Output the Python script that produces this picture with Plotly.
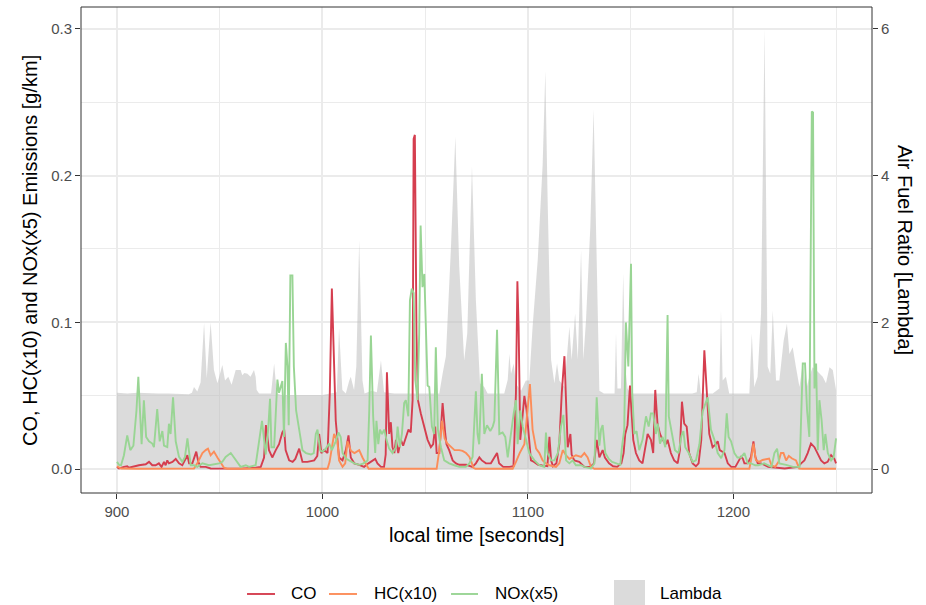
import plotly.graph_objects as go

# ---------------- data ----------------
co_t = [900, 901, 903.4, 905, 905.8, 908.3, 910.7, 914, 915.6, 917.2, 918.8, 920.4, 921.7, 922.9, 923.7, 924.5, 925.3, 927, 928.6, 930.2,
        931.8, 934.3, 935.1, 936.7, 938.6, 939.6, 940.7, 943.2, 945.6, 950, 960, 967.5, 970, 971.6, 972.5, 974, 975.6, 977.3, 978.9, 980.5,
        981.4, 982.1, 983.8, 985.5, 986.8, 988.7, 990.3, 992.7, 996, 997.5, 998.4, 999.5, 1000.8, 1002.5, 1003.6, 1004.6, 1005.7, 1006.5, 1008.1, 1009.8,
        1011.4, 1012.7, 1013.8, 1015.5, 1017.9, 1019, 1020.3, 1022.4, 1024.4, 1025.7, 1026.8, 1028.5, 1030, 1030.8, 1031.4, 1032.5, 1033.3, 1034.1, 1035, 1035.8,
        1036.9, 1038.2, 1039.3, 1040.6, 1041.9, 1043, 1043.9, 1044.4, 1045, 1045.8, 1046.5, 1047.9, 1049.6, 1051.2, 1052.8, 1053.9, 1054.9, 1055.6, 1056.9, 1058.5,
        1059.8, 1060.4, 1061.7, 1063.4, 1065, 1066.6, 1070, 1073, 1074.7, 1076.4, 1077.6, 1079.6, 1082, 1085, 1086, 1088, 1091, 1093, 1094.2, 1094.9,
        1095.5, 1096.3, 1097.2, 1098.3, 1099.4, 1100.4, 1101.5, 1103, 1105, 1107, 1109.5, 1110.5, 1111.3, 1112.2, 1113.9, 1115.3, 1116.5, 1117.8, 1118.6, 1119.4,
        1120.7, 1121.3, 1122.6, 1125, 1127.5, 1130.4, 1132.2, 1133.5, 1134.8, 1136.4, 1137.5, 1139.5, 1141.5, 1143.5, 1145.5, 1146.6, 1147.4, 1148.5, 1149.7, 1150.5,
        1151.3, 1152.6, 1154.2, 1155.8, 1156.7, 1158.3, 1159.9, 1161, 1162, 1163.1, 1164.3, 1165.6, 1167.2, 1168, 1169.6, 1171.2, 1172.9, 1174, 1175, 1176.1,
        1177.3, 1178.5, 1180.2, 1181.8, 1183.1, 1184.4, 1185.9, 1187, 1188.3, 1189.9, 1191.5, 1192.4, 1193.4, 1195.7, 1197.3, 1199, 1201, 1203.7, 1204.6, 1205.4,
        1207, 1208.6, 1209.8, 1210.7, 1211.9, 1213.5, 1217, 1225, 1231.4, 1233, 1234.6, 1236.2, 1237.8, 1239.5, 1241, 1242.7, 1244.3, 1245.9, 1247.6, 1249.2,
        1250]
co_v = [0.0015, 0.0005, 0.0016, 0.002, 0.001, 0.002, 0.0027, 0.0034, 0.005, 0.0027, 0.0027, 0.004, 0.0016, 0.005, 0.0027, 0.006, 0.004, 0.005, 0.007, 0.004,
        0.0027, 0.0095, 0.004, 0.004, 0.012, 0.005, 0.0016, 0.0016, 0.0005, 0.0004, 0.0004, 0.001, 0.0016, 0.008, 0.03, 0.013, 0.008, 0.013, 0.017, 0.025,
        0.027, 0.013, 0.006, 0.005, 0.007, 0.014, 0.005, 0.005, 0.006, 0.009, 0.024, 0.011, 0.013, 0.011, 0.052, 0.123, 0.07, 0.033, 0.008, 0.006,
        0.013, 0.023, 0.008, 0.004, 0.003, 0.0025, 0.0016, 0.004, 0.006, 0.007, 0.004, 0.0016, 0.0016, 0.01, 0.066, 0.024, 0.032, 0.015, 0.011, 0.02,
        0.011, 0.02, 0.016, 0.022, 0.027, 0.025, 0.047, 0.225, 0.2277, 0.092, 0.047, 0.038, 0.029, 0.02, 0.015, 0.017, 0.029, 0.011, 0.011, 0.045,
        0.024, 0.017, 0.013, 0.006, 0.004, 0.003, 0.003, 0.0016, 0.004, 0.008, 0.006, 0.004, 0.004, 0.011, 0.004, 0.0016, 0.0016, 0.002, 0.052, 0.128,
        0.097, 0.02, 0.033, 0.05, 0.04, 0.021, 0.006, 0.005, 0.003, 0.0025, 0.002, 0.022, 0.006, 0.002, 0.004, 0.017, 0.052, 0.077, 0.04, 0.015,
        0.024, 0.01, 0.006, 0.005, 0.0016, 0.0016, 0.004, 0.02, 0.008, 0.013, 0.008, 0.004, 0.002, 0.0016, 0.004, 0.011, 0.024, 0.03, 0.057, 0.033,
        0.02, 0.011, 0.006, 0.004, 0.011, 0.024, 0.02, 0.011, 0.054, 0.031, 0.024, 0.02, 0.017, 0.02, 0.011, 0.006, 0.004, 0.013, 0.046, 0.031,
        0.029, 0.011, 0.004, 0.002, 0.004, 0.02, 0.081, 0.054, 0.024, 0.015, 0.017, 0.019, 0.013, 0.011, 0.004, 0.0016, 0.0016, 0.0084, 0.0073, 0.004,
        0.004, 0.0084, 0.019, 0.0084, 0.004, 0.004, 0.0016, 0.0005, 0.0016, 0.004, 0.006, 0.011, 0.0175, 0.015, 0.011, 0.006, 0.004, 0.005, 0.0095, 0.007,
        0.004]

hc_t = [900, 902, 910, 937.5, 939.1, 941.6, 943.2, 944.3, 945.6, 947.2, 948.9, 950.5, 952.1, 953.7, 1002.5, 1003.5, 1004.6, 1005.7, 1007.3, 1008.1,
        1009.8, 1011.1, 1012.2, 1013.9, 1015.6, 1017.9, 1019.5, 1021, 1022.5, 1055.6, 1056.9, 1058.2, 1059.5, 1060.8, 1062.5, 1064.3, 1066.6, 1068.2, 1069.9, 1071.5,
        1072.5, 1073.5, 1074.5, 1092.6, 1094.2, 1096, 1098.3, 1099.9, 1101, 1102.3, 1104, 1105.6, 1107.2, 1108.8, 1110.5, 1113.7, 1115.3, 1117, 1118.6, 1120.2,
        1121.8, 1123.4, 1125.9, 1127.5, 1129.1, 1130.7, 1132.4, 1207.8, 1208.6, 1209.8, 1211, 1212.6, 1214.2, 1215.8, 1217.4, 1218.6, 1220.4, 1222, 1223.2, 1224.4,
        1225.7, 1227, 1228.6, 1230.5, 1232.1, 1233.7, 1250]
hc_v = [0.002, 0.0005, 0.0003, 0.0005, 0.004, 0.011, 0.013, 0.014, 0.0095, 0.012, 0.008, 0.004, 0.001, 0.0003, 0.0003, 0.005, 0.015, 0.024, 0.019, 0.006,
        0.0016, 0.004, 0.019, 0.0125, 0.011, 0.013, 0.008, 0.004, 0.0003, 0.0003, 0.013, 0.033, 0.021, 0.0175, 0.0155, 0.013, 0.013, 0.0125, 0.011, 0.0085,
        0.005, 0.001, 0.0003, 0.0003, 0.005, 0.011, 0.017, 0.04, 0.058, 0.027, 0.014, 0.011, 0.006, 0.004, 0.0027, 0.0016, 0.004, 0.013, 0.0095, 0.007,
        0.008, 0.0095, 0.0084, 0.011, 0.008, 0.0016, 0.0003, 0.0003, 0.006, 0.0175, 0.006, 0.005, 0.0063, 0.0068, 0.0073, 0.0027, 0.0016, 0.005, 0.011, 0.011,
        0.006, 0.009, 0.0073, 0.006, 0.0005, 0.0003, 0.0003]

nox_t = [900, 901, 902, 903.4, 905, 906.5, 908, 909.5, 910.4, 911.2, 912, 913.1, 914.2, 915.6, 917.2, 918, 919.6, 920.8, 922.1, 922.9,
         924.5, 925.3, 926.1, 927.3, 928.6, 930.2, 931.8, 933.1, 934.3, 935.9, 937.5, 939.1, 941.6, 944.8, 949.7, 951.3, 952.9, 955.4, 957.8, 960.2,
         962.7, 964.3, 967.5, 969.2, 970.6, 972.4, 973.6, 974.5, 975.2, 976.5, 978.1, 978.9, 979.7, 980.5, 981.3, 982.2, 983, 983.6, 984.4, 985.4,
         986.1, 987.2, 988.7, 990.3, 992, 994.4, 995.8, 996.8, 997.6, 998.9, 1000.1, 1001.6, 1003.3, 1004.6, 1006.5, 1007.8, 1008.9, 1009.8, 1011.4, 1013,
         1015.5, 1018, 1020, 1022, 1022.8, 1023.6, 1024.7, 1025.7, 1026.3, 1027.2, 1028, 1029, 1030.1, 1031.2, 1032.5, 1034.1, 1035.8, 1036.6, 1037.7, 1038.7,
         1039.8, 1040.6, 1041.8, 1042.6, 1043.5, 1044.4, 1045.2, 1046.3, 1047.1, 1047.8, 1048.7, 1049.6, 1050.4, 1051.2, 1052, 1053.3, 1054.4, 1055.2, 1056.2, 1057.7,
         1059.3, 1061.7, 1064.2, 1066.6, 1069.8, 1071.5, 1073.1, 1073.9, 1074.7, 1075.5, 1076.3, 1077.6, 1078.8, 1080.1, 1081.7, 1082.9, 1083.7, 1085, 1086.1, 1087.7,
         1089, 1090.2, 1091.8, 1093.1, 1094.2, 1095, 1096.3, 1097.5, 1099.1, 1100.7, 1103.2, 1105.6, 1108, 1108.8, 1109.6, 1111.3, 1112.9, 1114.6, 1116.1, 1117.3,
         1118.6, 1120.2, 1121.8, 1123.4, 1125.9, 1127.5, 1130.7, 1132.4, 1133.5, 1134.8, 1135.6, 1136.4, 1137.7, 1139.4, 1141, 1143, 1145, 1145.8, 1146.9, 1147.7,
         1148.9, 1150.2, 1150.8, 1151.8, 1152.9, 1154.2, 1155.8, 1157.5, 1158.8, 1159.9, 1161, 1162.3, 1163.2, 1164.3, 1165.6, 1166.9, 1168, 1168.6, 1170, 1171.6,
         1173.3, 1174.8, 1175.7, 1176.6, 1178.3, 1180.2, 1181.8, 1183.5, 1185, 1186.4, 1187.5, 1188.3, 1189.1, 1190.8, 1192.4, 1194.1, 1195.7, 1196.8, 1197.7, 1198.9,
         1200.5, 1202, 1203.6, 1205.4, 1207, 1208.6, 1210.7, 1212.1, 1215, 1218.6, 1220, 1221.3, 1222.4, 1225.7, 1229, 1232.3, 1233.8, 1234.9, 1235.9, 1237,
         1238.2, 1238.8, 1239.5, 1240.3, 1241.1, 1241.9, 1243, 1244, 1244.8, 1246, 1247.6, 1248.8, 1250]
nox_v = [0.005, 0.003, 0.0027, 0.0095, 0.023, 0.013, 0.016, 0.04, 0.063, 0.035, 0.017, 0.047, 0.022, 0.019, 0.0175, 0.015, 0.041, 0.019, 0.026, 0.016,
         0.015, 0.031, 0.024, 0.049, 0.019, 0.0084, 0.005, 0.0084, 0.021, 0.0027, 0.0027, 0.0016, 0.004, 0.0027, 0.004, 0.005, 0.0084, 0.011, 0.006, 0.0016,
         0.0027, 0.0016, 0.0027, 0.02, 0.033, 0.01, 0.027, 0.048, 0.015, 0.015, 0.061, 0.052, 0.056, 0.06, 0.022, 0.086, 0.07, 0.03, 0.132, 0.132,
         0.07, 0.04, 0.027, 0.013, 0.011, 0.01, 0.011, 0.024, 0.027, 0.0127, 0.012, 0.014, 0.0175, 0.013, 0.019, 0.025, 0.022, 0.011, 0.0073, 0.006,
         0.004, 0.003, 0.004, 0.006, 0.04, 0.091, 0.036, 0.011, 0.033, 0.017, 0.027, 0.024, 0.027, 0.02, 0.014, 0.011, 0.015, 0.029, 0.015, 0.024,
         0.045, 0.047, 0.036, 0.115, 0.123, 0.12, 0.061, 0.047, 0.092, 0.166, 0.124, 0.133, 0.097, 0.057, 0.056, 0.029, 0.024, 0.083, 0.027, 0.015,
         0.006, 0.004, 0.0027, 0.0016, 0.0016, 0.004, 0.0084, 0.027, 0.053, 0.024, 0.017, 0.065, 0.024, 0.03, 0.026, 0.029, 0.033, 0.095, 0.024, 0.025,
         0.022, 0.008, 0.026, 0.038, 0.047, 0.017, 0.04, 0.029, 0.02, 0.011, 0.006, 0.0027, 0.0016, 0.025, 0.011, 0.006, 0.006, 0.011, 0.029, 0.037,
         0.006, 0.004, 0.006, 0.0027, 0.0027, 0.0016, 0.0005, 0.004, 0.049, 0.016, 0.027, 0.03, 0.011, 0.007, 0.005, 0.004, 0.003, 0.015, 0.027, 0.1,
         0.07, 0.14, 0.052, 0.024, 0.026, 0.013, 0.02, 0.036, 0.029, 0.038, 0.038, 0.024, 0.031, 0.0175, 0.022, 0.015, 0.105, 0.036, 0.024, 0.013,
         0.011, 0.023, 0.026, 0.015, 0.011, 0.005, 0.006, 0.017, 0.039, 0.045, 0.049, 0.038, 0.027, 0.02, 0.011, 0.0075, 0.013, 0.038, 0.022, 0.019,
         0.011, 0.008, 0.008, 0.011, 0.004, 0.004, 0.0027, 0.0027, 0.004, 0.0016, 0.011, 0.014, 0.004, 0.003, 0.0016, 0.0016, 0.072, 0.072, 0.04, 0.022,
         0.2436, 0.243, 0.055, 0.072, 0.013, 0.047, 0.033, 0.013, 0.024, 0.011, 0.006, 0.008, 0.021]

lam_t = [900, 905, 910, 915, 920, 925, 930, 935, 936.5, 937.5, 939.1, 940.7, 942.4, 943.7, 945.6, 947.2, 948.9, 951.3, 952.6, 954.2,
         955.8, 957.8, 958.6, 960.2, 961, 962, 963.5, 965, 966.7, 967.5, 968, 969.2, 975, 976.5, 977.8, 980, 990, 1000, 1007, 1008.1,
         1009.7, 1011.4, 1013, 1013.8, 1015.4, 1016.5, 1017.9, 1019.5, 1020.5, 1024, 1026.5, 1028.5, 1030, 1035, 1040, 1045, 1050, 1056.9, 1058.5, 1060.1,
         1062.5, 1064.7, 1066.6, 1069, 1070.5, 1072.8, 1074.7, 1076.7, 1078.8, 1080.4, 1085, 1088.5, 1090.2, 1091, 1091.8, 1093.1, 1094.2, 1096.7, 1099, 1100.7,
         1102.3, 1104.8, 1107.2, 1108.5, 1109.6, 1111.3, 1112.9, 1114.2, 1115.3, 1117.8, 1120.2, 1121.3, 1123, 1124.3, 1125.9, 1127, 1128.3, 1130.4, 1132, 1133.5,
         1134.8, 1137, 1140, 1142.2, 1142.9, 1143.6, 1145.3, 1146.4, 1147.4, 1148.5, 1150, 1160, 1170, 1180, 1182.2, 1183.1, 1184.2, 1190, 1193.2, 1194,
         1194.8, 1196.4, 1198, 1200.5, 1207.8, 1209, 1210.2, 1211.8, 1213.5, 1215.2, 1216.7, 1218, 1219.2, 1220.8, 1222.4, 1224.5, 1226.1, 1227.3, 1228.9, 1230.5,
         1232.2, 1233.8, 1235.4, 1237, 1238.6, 1240.3, 1241.9, 1243.5, 1245.1, 1246.8, 1248.4, 1250]
lam_v = [1.04, 1.03, 1.04, 1.03, 1.03, 1.03, 1.02, 1.02, 1.04, 1.12, 1.06, 1.18, 1.99, 1.24, 2.0, 1.35, 1.17, 1.42, 1.21, 1.26,
         1.15, 1.35, 1.35, 1.35, 1.28, 1.31, 1.3, 1.26, 1.35, 1.26, 1.08, 1.03, 1.03, 1.44, 1.03, 1.01, 1.01, 1.01, 1.05, 1.92,
         1.08, 1.03, 1.2, 1.26, 1.08, 1.4, 3.12, 1.21, 1.03, 1.07, 1.05, 1.48, 1.05, 1.03, 1.03, 1.03, 1.02, 1.03, 1.3, 1.54,
         2.98, 4.53, 2.76, 1.48, 1.85, 4.12, 2.3, 1.17, 1.12, 1.03, 1.03, 1.03, 1.22, 1.57, 1.3, 1.44, 1.16, 1.07, 1.21, 1.21,
         1.94, 2.85, 4.15, 5.42, 3.7, 1.49, 1.17, 1.44, 1.21, 1.12, 1.94, 1.49, 2.12, 1.49, 2.98, 1.49, 2.03, 3.3, 4.9, 2.85,
         1.07, 1.03, 1.03, 1.03, 1.85, 1.1, 1.1, 2.66, 1.4, 1.1, 1.03, 1.03, 1.03, 1.03, 1.05, 1.3, 1.03, 1.03, 1.1, 2.16,
         1.21, 1.26, 1.03, 1.03, 1.03, 1.85, 1.12, 1.26, 2.12, 6.0, 1.4, 1.3, 2.16, 1.21, 1.21, 1.75, 1.98, 1.57, 1.66, 1.39,
         1.12, 1.44, 1.08, 1.26, 1.39, 1.35, 1.3, 1.26, 1.17, 1.39, 1.35, 1.08]

assert len(co_t) == len(co_v) and len(hc_t) == len(hc_v)
assert len(nox_t) == len(nox_v) and len(lam_t) == len(lam_v)

series = [("CO", co_t, co_v, "#D53E4F"),
          ("HC(x10)", hc_t, hc_v, "#FC8D59"),
          ("NOx(x5)", nox_t, nox_v, "#99D594")]
lam_name = "Lambda"
emis_ticks = [0, 0.1, 0.2, 0.3]
emis_labels = ["0.0", "0.1", "0.2", "0.3"]
lam_ticks = [0, 2, 4, 6]
time_ticks = [900, 1000, 1100, 1200]
time_minor = [950, 1050, 1150, 1250]

# ---------------- style ----------------
FONT = "Liberation Sans, Arial, Helvetica, sans-serif"
GRID = "#EBEBEB"
TXT = "#4D4D4D"
DARK = "#333333"
LAMFILL = "rgba(190,190,190,0.55)"
LW = 1.9
SCALE = 20.0  # secondary axis factor
y_lo, y_hi = -0.0162, 0.3148

fig = go.Figure()
# lambda area on the base y axis (right-hand scale)
fig.add_trace(go.Scatter(x=lam_t, y=lam_v, mode="lines", yaxis="y",
                         line=dict(width=0, color="rgba(0,0,0,0)"),
                         fill="tozeroy", fillcolor=LAMFILL, name=lam_name,
                         hoverinfo="skip", showlegend=False))
for name, t, v, col in series:
    fig.add_trace(go.Scatter(x=t, y=v, mode="lines", yaxis="y2", name=name,
                             line=dict(color=col, width=LW), showlegend=False))

fig.update_layout(
    width=926, height=605,
    margin=dict(l=81, r=54, t=7, b=112, pad=0),
    paper_bgcolor="white", plot_bgcolor="white",
    font=dict(family=FONT, color="black"),
    showlegend=False,
    xaxis=dict(range=[882.5, 1267.5], tickmode="array", tickvals=time_ticks,
               ticks="outside", ticklen=5, tickwidth=1, tickcolor=DARK,
               tickfont=dict(size=15, color=TXT, family=FONT),
               showgrid=True, gridcolor=GRID, gridwidth=1.5, zeroline=False,
               showline=False,
               minor=dict(tickmode="array", tickvals=time_minor, showgrid=True,
                          gridcolor=GRID, gridwidth=0.8, ticks="")),
    yaxis=dict(range=[y_lo * SCALE, y_hi * SCALE], side="right", tickmode="array",
               tickvals=lam_ticks, ticks="outside", ticklen=5, tickwidth=1, tickcolor=DARK,
               tickfont=dict(size=15, color=TXT, family=FONT),
               showgrid=True, gridcolor=GRID, gridwidth=1.5, zeroline=False,
               showline=False,
               minor=dict(tickmode="array", tickvals=[1, 3, 5], showgrid=True,
                          gridcolor=GRID, gridwidth=0.8, ticks="")),
    yaxis2=dict(range=[y_lo, y_hi], overlaying="y", side="left", tickmode="array",
                tickvals=emis_ticks, ticktext=emis_labels, ticks="outside", ticklen=5,
                tickwidth=1, tickcolor=DARK, tickfont=dict(size=15, color=TXT, family=FONT),
                showgrid=False, zeroline=False, showline=False),
)

# panel border
fig.add_shape(type="rect", xref="paper", yref="paper", x0=0, x1=1, y0=0, y1=1,
              line=dict(color=DARK, width=1), fillcolor="rgba(0,0,0,0)", layer="above")

# axis titles
fig.add_annotation(text="local time [seconds]", xref="paper", yref="paper", x=0.5, y=-0.0864,
                   xanchor="center", yanchor="middle", showarrow=False,
                   font=dict(size=20, color="black", family=FONT))
fig.add_annotation(text="CO, HC(x10) and NOx(x5) Emissions [g/km]", xref="paper", yref="paper",
                   x=-0.0645, y=0.5, xanchor="center", yanchor="middle", textangle=-90,
                   showarrow=False, font=dict(size=20, color="black", family=FONT))
fig.add_annotation(text="Air Fuel Ratio [Lambda]", xref="paper", yref="paper",
                   x=1.0417, y=0.5, xanchor="center", yanchor="middle", textangle=90,
                   showarrow=False, font=dict(size=20, color="black", family=FONT))

# manual legend (bottom)
leg_y = -0.2078
key_pos = [(0.2099, 0.2453, 0.2630), (0.3135, 0.3489, 0.3679), (0.4678, 0.5019, 0.5209)]
for (name, _, _, col), (k0, k1, tx) in zip(series, key_pos):
    fig.add_shape(type="line", xref="paper", yref="paper", x0=k0, x1=k1, y0=leg_y, y1=leg_y,
                  line=dict(color=col, width=LW))
    fig.add_annotation(text=name, xref="paper", yref="paper", x=tx, y=leg_y, xanchor="left",
                       yanchor="middle", showarrow=False, font=dict(size=17, color="black", family=FONT))
fig.add_shape(type="rect", xref="paper", yref="paper", x0=0.6738, x1=0.7130, y0=-0.2366, y1=-0.179,
              line=dict(width=0), fillcolor=LAMFILL)
fig.add_annotation(text=lam_name, xref="paper", yref="paper", x=0.7295, y=leg_y, xanchor="left",
                   yanchor="middle", showarrow=False, font=dict(size=17, color="black", family=FONT))

fig.write_html("out.html")
